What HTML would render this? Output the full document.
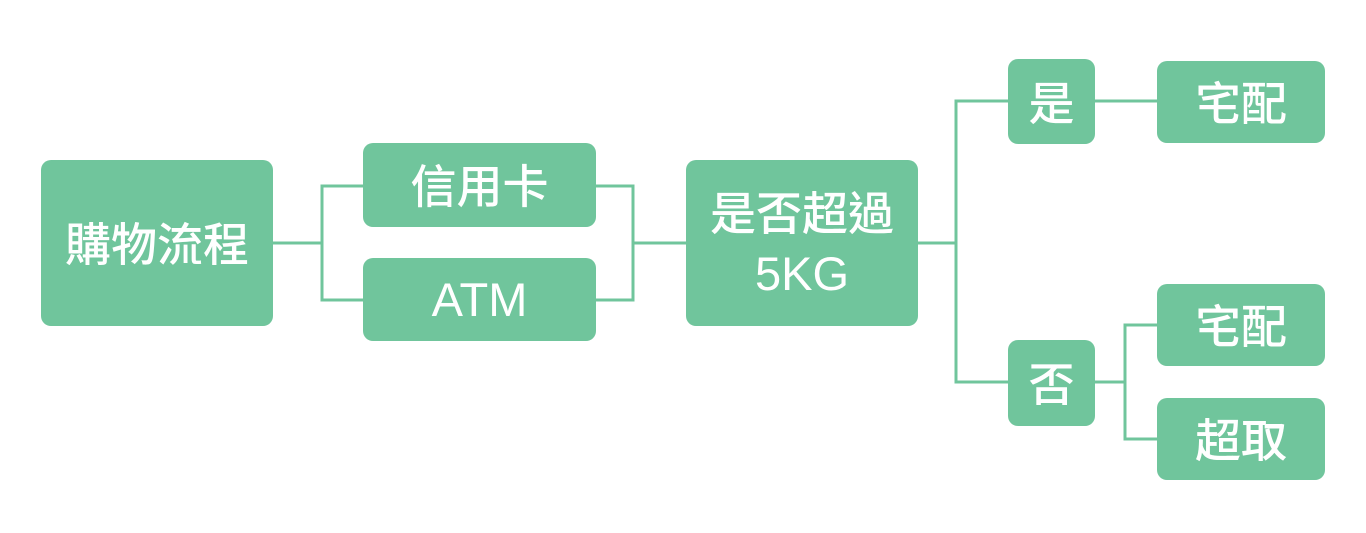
<!DOCTYPE html>
<html><head><meta charset="utf-8"><style>
body{margin:0;width:1366px;height:533px;background:#fff;position:relative;overflow:hidden;font-family:"Noto Sans CJK TC","Liberation Sans",sans-serif}
.b{position:absolute;background:#70c59c;border-radius:10px;color:#fff;display:flex;align-items:center;justify-content:center;text-align:center;font-size:46px;line-height:1.3;font-weight:500}
.l{font-family:"Liberation Sans",sans-serif;font-size:47px}
svg{position:absolute;left:0;top:0}
</style></head><body>
<svg width="1366" height="533"><g stroke="#70c59c" stroke-width="3" fill="none">
<path d="M273 243H322M363 186H322V300H363"/>
<path d="M596 186H633V300H596M633 243H686"/>
<path d="M918 243H956M1008 101H956V382H1008"/>
<path d="M1095 101H1157"/>
<path d="M1095 382H1125M1157 325H1125V439H1157"/>
</g></svg>
<div class="b" style="left:41px;top:160px;width:232px;height:166px">購物流程</div>
<div class="b" style="left:363px;top:143px;width:233px;height:84px">信用卡</div>
<div class="b l" style="left:363px;top:258px;width:233px;height:83px">ATM</div>
<div class="b" style="left:686px;top:160px;width:232px;height:166px"><div>是否超過<br><span class="l">5KG</span></div></div>
<div class="b" style="left:1008px;top:59px;width:87px;height:85px">是</div>
<div class="b" style="left:1008px;top:340px;width:87px;height:86px">否</div>
<div class="b" style="left:1157px;top:61px;width:168px;height:82px">宅配</div>
<div class="b" style="left:1157px;top:284px;width:168px;height:82px">宅配</div>
<div class="b" style="left:1157px;top:398px;width:168px;height:82px">超取</div>
</body></html>
